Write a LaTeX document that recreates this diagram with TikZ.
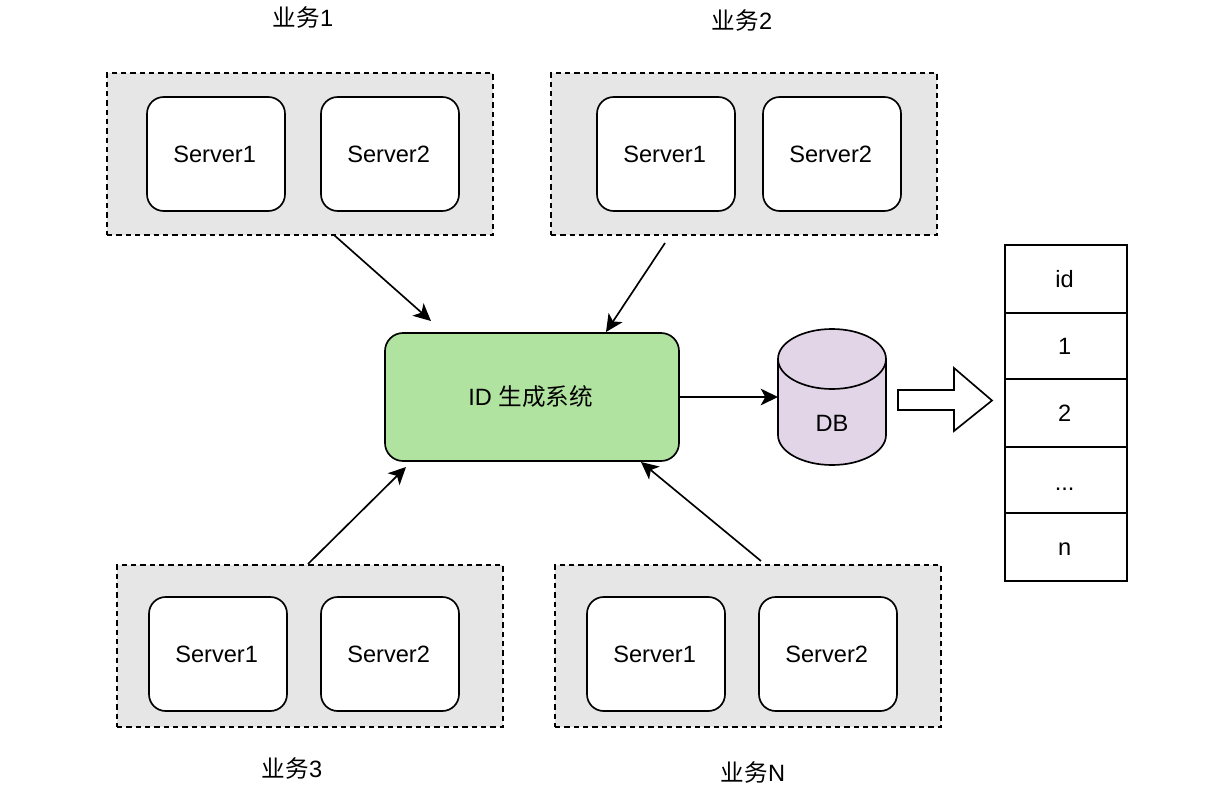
\documentclass[tikz,border=0pt]{standalone}
\usepackage{fontspec}
\setmainfont{Liberation Sans}
\newfontfamily\cjk{Noto Sans CJK SC}
\usetikzlibrary{arrows.meta}
\definecolor{groupfill}{HTML}{E6E6E6}
\definecolor{idfill}{HTML}{B0E39F}
\definecolor{dbfill}{HTML}{E1D5E7}
\newcommand\rp{\hspace*{2pt}}
\tikzset{
  x=0.75pt,y=-0.75pt,
  every node/.style={font=\fontsize{17.7pt}{20pt}\selectfont,inner sep=0pt,outer sep=0pt,text height=12.7pt,text depth=0pt},
  linew/.style={line width=1.25pt,draw=black},
  groupbox/.style={linew,fill=groupfill,dash pattern=on 4pt off 3pt,minimum width=289.5pt,minimum height=121.5pt},
  serverbox/.style={linew,fill=white,rounded corners=12.5pt,minimum width=103.5pt,minimum height=85.5pt},
  idbox/.style={linew,fill=idfill,rounded corners=13.5pt,minimum width=220.5pt,minimum height=96pt},
  cell/.style={linew,fill=white,minimum width=91.5pt},
  conn/.style={line width=1.25pt,-{Stealth[length=13pt,width=12.5pt,inset=3.5pt]}},
  biz/.style={}
}
\begin{document}
\begin{tikzpicture}
\useasboundingbox (0,0) rectangle (1210,810);
% groups
\node[groupbox] (g1) at (300,154) {};
\node[groupbox] (g2) at (744,154) {};
\node[groupbox] (g3) at (310,646) {};
\node[groupbox] (g4) at (748,646) {};
% servers
\node[serverbox] (s11) at (216,154) {Server1\rp};
\node[serverbox] (s12) at (390,154) {Server2\rp};
\node[serverbox] (s21) at (666,154) {Server1\rp};
\node[serverbox] (s22) at (832,154) {Server2\rp};
\node[serverbox] (s31) at (218,654) {Server1\rp};
\node[serverbox] (s32) at (390,654) {Server2\rp};
\node[serverbox] (s41) at (656,654) {Server1\rp};
\node[serverbox] (s42) at (828,654) {Server2\rp};
% labels
\node[biz] (l1) at (303,18) {{\cjk 业务}1};
\node[biz] (l2) at (742,21) {{\cjk 业务}2};
\node[biz] (l3) at (292,769) {{\cjk 业务}3};
\node[biz] (l4) at (753,773) {{\cjk 业务}N};
% id system
\node[idbox] (id) at (532,397) {ID {\cjk 生成系统}\hspace*{2pt}};
% database
\node[minimum width=81pt,minimum height=102pt] (db) at (832,397) {};
\draw[linew,fill=dbfill] (db.north west) ++(0,30)
  arc[start angle=180,end angle=0,x radius=54,y radius=-30]
  -- ++(0,76)
  arc[start angle=0,end angle=-180,x radius=54,y radius=-30]
  -- cycle;
\draw[linew] (db.north west) ++(0,30)
  arc[start angle=180,end angle=360,x radius=54,y radius=-30];
\node (dbt) at (832,423) {DB};
% table
\node[cell,minimum height=51pt] (c0) at (1066,279) {id\rp};
\node[cell,minimum height=49.5pt] (c1) at (1066,346) {1\rp};
\node[cell,minimum height=51pt] (c2) at (1066,413) {2\rp};
\node[cell,minimum height=49.5pt] (c3) at (1066,480) {\raisebox{-1.3pt}{...}\rp};
\node[cell,minimum height=51pt] (c4) at (1066,547) {n\rp};
% block arrow
\draw[linew,fill=white,line join=miter] (898,390) -- (954,390) -- (954,368) -- (992,400.5) -- (954,431) -- (954,410) -- (898,410) -- cycle;
% connectors
\draw[conn] ([shift={(34,0)}]g1.south) -- ([shift={(-101,-12)}]id.north);
\draw[conn] ([shift={(-79,8)}]g2.south) -- ([shift={(74,-1)}]id.north);
\draw[conn] ([shift={(-2,-1)}]g3.north) -- ([shift={(-126,6)}]id.south);
\draw[conn] ([shift={(13,-4)}]g4.north) -- ([shift={(109,1)}]id.south);
\draw[conn] (id.east) -- (db.west);
\end{tikzpicture}
\end{document}
